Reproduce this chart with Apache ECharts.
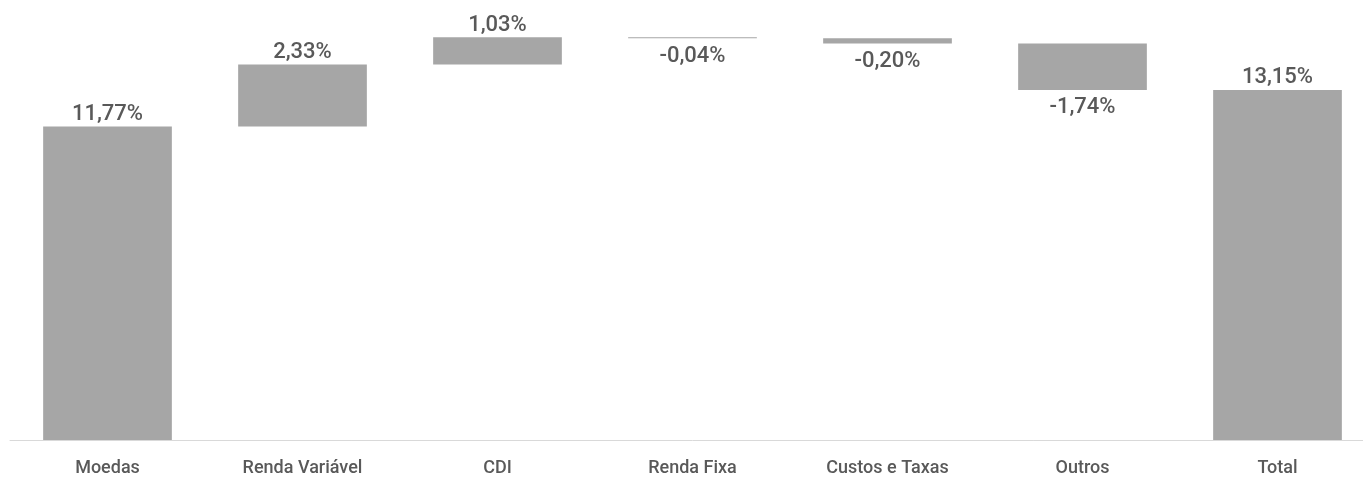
<!DOCTYPE html>
<html>
<head>
<meta charset="utf-8">
<script src="https://cdn.jsdelivr.net/npm/echarts@6/dist/echarts.min.js"></script>
<style>
  html, body { margin: 0; padding: 0; background: #fff; overflow: hidden; }
  #chart { width: 1375px; height: 477px; }
</style>
</head>
<body>
<div id="chart"></div>
<script>
const categories = ['Moedas', 'Renda Variável', 'CDI', 'Renda Fixa', 'Custos e Taxas', 'Outros', 'Total']
const values = [11.77, 2.33, 1.03, -0.04, -0.2, -1.74, 13.15]
const isTotal = [false, false, false, false, false, false, true]

const fontFam = 'Roboto, "Noto Sans", sans-serif'

// parte invisivel (base) + parte visivel da cascata
let baseData = []
let barData = []
let running = 0
for (let i = 0; i < values.length; i++) {
  let v = values[i]
  if (isTotal[i]) {
    baseData.push(0)
    barData.push(v)
    continue
  }
  let next = running + v
  baseData.push(Math.min(running, next))
  barData.push(Math.abs(v))
  running = next
}

const fmt = (v) => v.toFixed(2).replace('.', ',') + '%'

const myChart = echarts.init(document.getElementById('chart'))
const option = {
  animation: false,
  grid: { left: 10, right: 0, top: 14, bottom: 36 },
  xAxis: {
    type: 'category',
    data: categories,
    axisLine: { lineStyle: { color: '#d9d9d9', width: 1 } },
    axisTick: { show: false },
    axisLabel: {
      color: '#595959',
      fontSize: 18,
      fontWeight: 500,
      fontFamily: fontFam,
      margin: 19
    }
  },
  yAxis: {
    type: 'value',
    min: 0,
    max: 16,
    show: false,
    splitLine: { show: false }
  },
  series: [
    {
      name: 'base',
      type: 'bar',
      stack: 'wf',
      silent: true,
      itemStyle: { color: 'transparent' },
      data: baseData
    },
    {
      name: 'valor',
      type: 'bar',
      stack: 'wf',
      barWidth: '66%',
      itemStyle: { color: '#a6a6a6' },
      data: barData.map((h, i) => ({
        value: h,
        label: {
          show: true,
          position: values[i] < 0 ? 'bottom' : 'top',
          distance: values[i] < 0 ? 7 : 1,
          formatter: fmt(values[i]),
          color: '#595959',
          fontSize: 22,
          fontWeight: 500,
          fontFamily: fontFam
        }
      }))
    }
  ]
}
myChart.setOption(option)
</script>
</body>
</html>
